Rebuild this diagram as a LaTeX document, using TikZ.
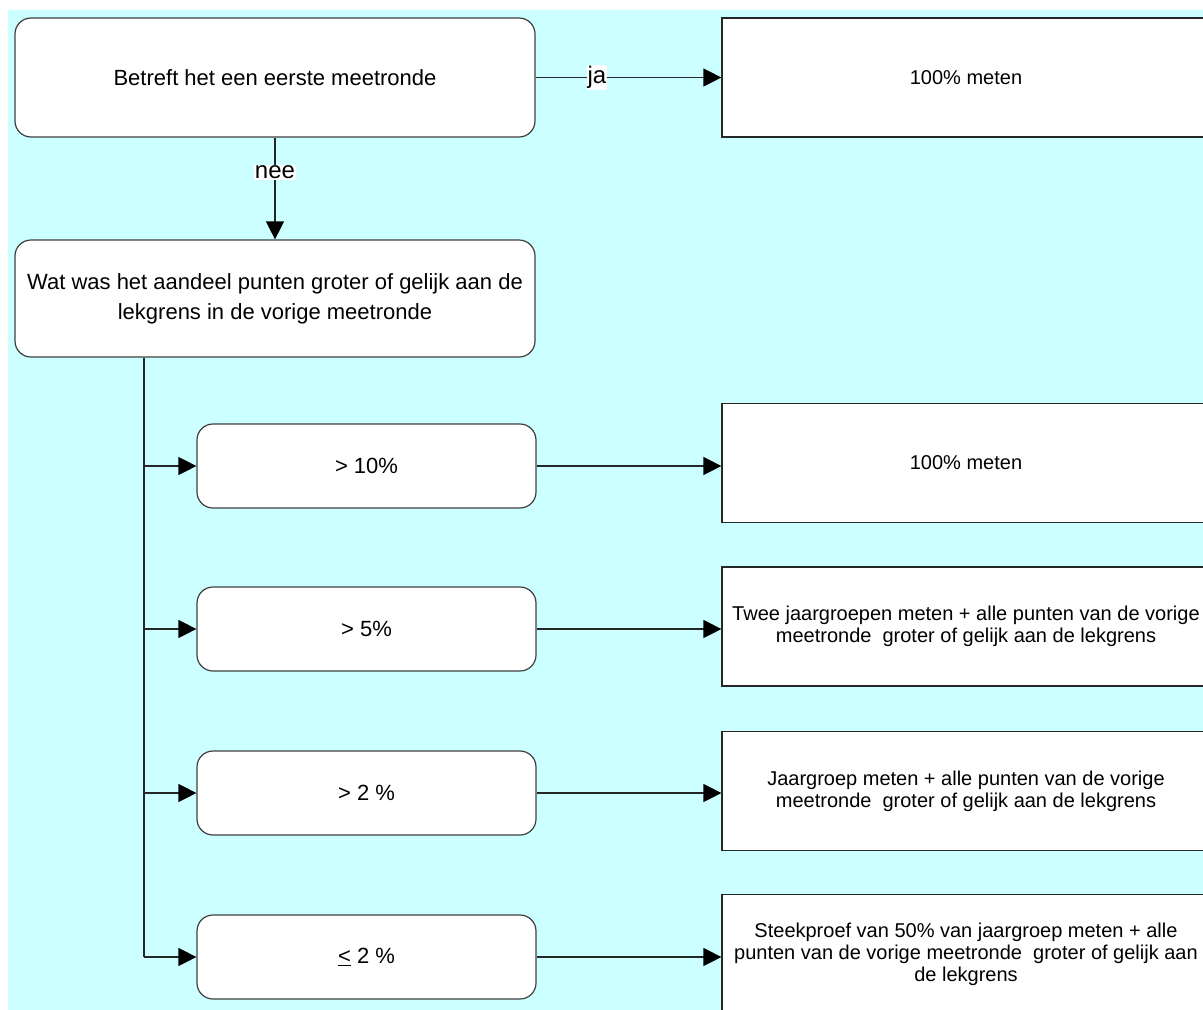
\documentclass[tikz,border=0pt]{standalone}
\usepackage{fontspec}
\setmainfont{Liberation Sans}
\usetikzlibrary{arrows.meta}
\definecolor{bgcyan}{RGB}{204,255,255}

\begin{document}
\begin{tikzpicture}[x=1pt,y=-1pt,
  vraag/.style={draw=black!75, fill=white, rounded corners=16pt, line width=1.2pt, inner sep=0pt, align=center, font=\fontsize{22}{30}\selectfont},
  keuze/.style={vraag, minimum width=339pt, minimum height=84pt},
  actie/.style={draw=black!85, fill=white, line width=1.2pt, inner sep=0pt, minimum width=488pt, minimum height=119pt, align=center, font=\fontsize{20}{22}\selectfont},
  pijl/.style={-{Triangle[length=18pt,width=18pt,color=black]}, line width=1.2pt, draw=black!85},
  antwoord/.style={fill=white, inner sep=1pt, font=\fontsize{24}{26}\selectfont}]

\useasboundingbox (0,0) rectangle (1203,1010);
\clip (0,0) rectangle (1203,1010);
\fill[bgcyan] (8,10) rectangle (1203,1010);

\node[vraag, minimum width=520pt, minimum height=119pt] (eerste) at (275,77.5) {Betreft het een eerste meetronde};
\node[actie] (volledig) at (966,77.5) {100\% meten};
\node[vraag, minimum width=520pt, minimum height=117pt] (aandeel) at (275,298.5) {Wat was het aandeel punten groter of gelijk aan de\\lekgrens in de vorige meetronde};

\node[keuze] (b1) at (366.5,466) {> 10\%};
\node[keuze] (b2) at (366.5,629) {> 5\%};
\node[keuze] (b3) at (366.5,793) {> 2 \%};
\node[keuze] (b4) at (366.5,957) {\underline{<} 2 \%};

\node[actie] (r1) at (966,463) {100\% meten};
\node[actie] (r2) at (966,626.5) {Twee jaargroepen meten + alle punten van de vorige\\meetronde\ \ groter of gelijk aan de lekgrens};
\node[actie] (r3) at (966,791) {Jaargroep meten + alle punten van de vorige\\meetronde\ \ groter of gelijk aan de lekgrens};
\node[actie] (r4) at (966,954) {Steekproef van 50\% van jaargroep meten + alle\\punten van de vorige meetronde\ \ groter of gelijk aan\\de lekgrens};

\coordinate (stam) at (144,957);

\draw[pijl] (eerste) -- node[antwoord, pos=0.33] {ja} (volledig);
\draw[pijl] (eerste) -- node[antwoord, pos=0.34] {nee} (aandeel);

% vertakking naar de vier klassen
\draw[line width=1.2pt, black!85] (aandeel.south -| stam) -- (stam);
\foreach \k in {1,2,3,4} {
  \draw[pijl] (b\k.west -| stam) -- (b\k.west);
  \draw[pijl] (b\k.east) -- (b\k.east -| r\k.west);
}
\end{tikzpicture}
\end{document}
